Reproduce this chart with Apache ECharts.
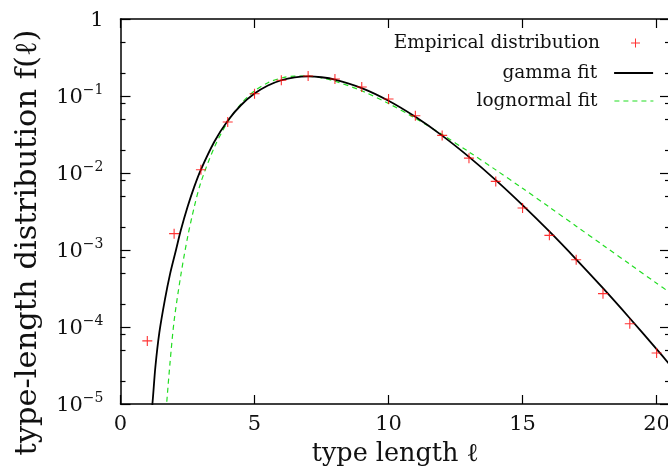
<!DOCTYPE html>
<html>
<head>
<meta charset="utf-8">
<script src="https://cdn.jsdelivr.net/npm/echarts@6/dist/echarts.min.js"></script>
<style>
html,body{margin:0;padding:0;background:#fff;}
#c{width:668px;height:467px;}
</style>
</head>
<body>
<div id="c"></div>
<script>
// ---- data ----
const empX = [1,2,3,4,5,6,7,8,9,10,11,12,13,14,15,16,17,18,19,20];
const empY = [6.6e-5,1.63e-3,1.10e-2,4.6e-2,0.107,0.160,0.182,0.166,0.131,0.0914,0.0555,0.0308,0.0156,7.78e-3,3.51e-3,1.55e-3,7.48e-4,2.71e-4,1.10e-4,4.59e-5];

const gammaX = [1.12,1.19,1.3,1.45,1.66,1.85,2.07,2.25,2.5,2.75,3,3.5,4,4.5,5,5.5,6,6.5,7,7.5,8,9,10,11,12,13,14,15,16,17,18,19,20,20.5];
const gammaY = [6.5e-6,1.0e-5,3.0e-5,8.5e-5,2.3e-4,4.9e-4,1.0e-3,1.8e-3,3.61e-3,6.6e-3,1.108e-2,2.55e-2,4.78e-2,7.64e-2,0.1076,0.1369,0.1602,0.1748,0.1796,0.1752,0.1634,0.1268,0.0868,0.0537,0.0306,0.0162,8.09e-3,3.83e-3,1.74e-3,7.57e-4,3.19e-4,1.30e-4,5.16e-5,3.22e-5];

const lognX = [1.65,1.72,1.85,2,2.25,2.5,2.75,3,3.5,4,4.5,5,5.5,6,6.5,7,7.5,8,9,10,11,12,13,14,15,16,17,18,19,20,20.5];
const lognY = [4.8e-6,1.0e-5,3.5e-5,1.2e-4,4.7e-4,1.45e-3,3.6e-3,7.6e-3,2.15e-2,4.6e-2,7.95e-2,0.1164,0.1486,0.1711,0.1817,0.1810,0.1713,0.1556,0.1168,0.0799,0.0513,0.0316,0.0188,0.01098,6.32e-3,3.60e-3,2.04e-3,1.156e-3,6.54e-4,3.70e-4,2.79e-4];

const xTicks = [0,5,10,15,20];
const yMajor = [1e-5,1e-4,1e-3,1e-2,1e-1,1];
const yMinor = [2e-5,5e-5,8e-5,2e-4,5e-4,8e-4,2e-3,5e-3,8e-3,2e-2,5e-2,8e-2,0.2,0.5];
const legendNames = ['Empirical distribution','gamma fit','lognormal fit'];

const F = 'DejaVu Serif';
const plusPath = 'path://M4,0H5V4H9V5H5V9H4V5H0V4H4Z';

function zip(a,b){ return a.map((v,i)=>[v,b[i]]); }

function yLabel(v){
  const e = Math.round(Math.log10(v));
  if (e === 0) return '{b|1}';
  return '{b|10}{s|\u2212' + Math.abs(e) + '}';
}

const chart = echarts.init(document.getElementById('c'), null, {renderer:'canvas'});

const lineCol = '#000';
const xBase = {
  type:'value', min:0, max:20.5, splitLine:{show:false},
  axisLine:{show:true, onZero:false, lineStyle:{color:lineCol, width:1.5}},
  axisTick:{show:true, inside:true, length:9, customValues:xTicks, lineStyle:{color:lineCol, width:1.2}}
};
const yBase = {
  type:'log', logBase:10, min:1e-5, max:1, splitLine:{show:false}
};
const legText = {fontFamily:F, fontSize:18.5, color:'#111', lineHeight:20, padding:[0,12,0,0]};
const legText0 = Object.assign({}, legText, {padding:[0,26,0,0]});

chart.setOption({
  animation:false,
  backgroundColor:'#fff',
  grid:{left:120.5, top:19, width:549.5, height:385, containLabel:false, outerBoundsMode:'none'},
  xAxis:[
    Object.assign({}, xBase, {
      position:'bottom',
      axisLabel:{show:true, customValues:xTicks, margin:10, lineHeight:22,
                 fontFamily:F, fontSize:21, color:'#111'},
      name:'type length \u2113', nameLocation:'middle', nameGap:37, nameMoveOverlap:false,
      nameTextStyle:{fontFamily:F, fontSize:25.5, color:'#111'}
    }),
    Object.assign({}, xBase, {position:'top', axisLabel:{show:false}})
  ],
  yAxis:[
    Object.assign({}, yBase, {
      position:'left',
      axisLine:{show:true, onZero:false, lineStyle:{color:lineCol, width:1.5}},
      axisTick:{show:true, inside:true, length:10, customValues:yMajor, lineStyle:{color:lineCol, width:1.2}},
      axisLabel:{show:true, customValues:yMajor, margin:17, formatter:yLabel,
        rich:{
          b:{fontFamily:F, fontSize:21, color:'#111', lineHeight:26, padding:[4,0,0,0]},
          s:{fontFamily:F, fontSize:14, color:'#111', verticalAlign:'top', lineHeight:14}
        }},
      name:'type-length distribution f(\u2113)', nameLocation:'middle', nameGap:77, nameRotate:90, nameMoveOverlap:false,
      nameTextStyle:{fontFamily:F, fontSize:30.5, color:'#111', padding:[0,62,0,0]}
    }),
    Object.assign({}, yBase, {
      position:'left',
      axisLine:{show:false, onZero:false},
      axisTick:{show:true, inside:true, length:5, customValues:yMinor, lineStyle:{color:lineCol, width:1.2}},
      axisLabel:{show:false}
    }),
    Object.assign({}, yBase, {
      position:'right',
      axisLine:{show:true, onZero:false, lineStyle:{color:lineCol, width:1.5}},
      axisTick:{show:true, inside:true, length:10, customValues:yMajor, lineStyle:{color:lineCol, width:1.2}},
      axisLabel:{show:false}
    }),
    Object.assign({}, yBase, {
      position:'right',
      axisLine:{show:false, onZero:false},
      axisTick:{show:true, inside:true, length:5, customValues:yMinor, lineStyle:{color:lineCol, width:1.2}},
      axisLabel:{show:false}
    })
  ],
  legend:[
    {data:[{name:legendNames[0], icon:plusPath}], right:28, top:33, align:'right', orient:'vertical',
     itemWidth:9, itemHeight:9, padding:0, selectedMode:false, textStyle:legText0,
     itemStyle:{color:'#ff0000'}},
    {data:[legendNames[1]], right:14, top:63, align:'right', orient:'vertical',
     itemWidth:39, itemHeight:9, padding:0, selectedMode:false, textStyle:legText,
     itemStyle:{opacity:0}, lineStyle:{color:'#000', width:1.8}},
    {data:[legendNames[2]], right:14, top:91, align:'right', orient:'vertical',
     itemWidth:39, itemHeight:9, padding:0, selectedMode:false, textStyle:legText,
     itemStyle:{opacity:0}, lineStyle:{color:'#22dd22', width:1.2, type:[5,4]}}
  ],
  series:[
    {name:legendNames[2], type:'line', data:zip(lognX,lognY), showSymbol:false, symbol:'none', smooth:0.3,
     clip:true, z:2, lineStyle:{color:'#22dd22', width:1.2, type:[5,4]}, itemStyle:{color:'#22dd22'}},
    {name:legendNames[1], type:'line', data:zip(gammaX,gammaY), showSymbol:false, symbol:'none', smooth:0.3,
     clip:true, z:3, lineStyle:{color:'#000', width:1.8}, itemStyle:{color:'#000'}},
    {name:legendNames[0], type:'scatter', data:zip(empX,empY), symbol:plusPath, symbolSize:10,
     clip:true, z:4, itemStyle:{color:'#ff0000'}}
  ]
});
</script>
</body>
</html>
